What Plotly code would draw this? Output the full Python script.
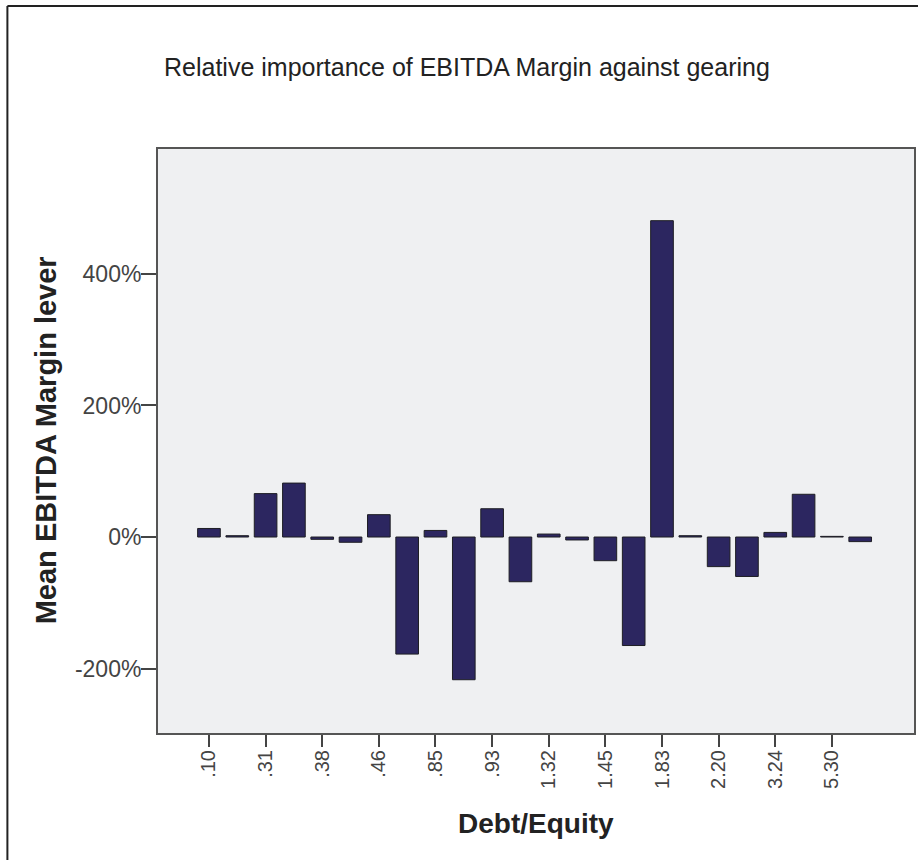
import plotly.graph_objects as go

# Data
tick_labels = [".10", ".31", ".38", ".46", ".85", ".93", "1.32", "1.45", "1.83", "2.20", "3.24", "5.30"]
mean_ebitda_margin_pct = [13, 2, 66, 82, -3.5, -8, 34, -178, 10, -217, 43, -68,
                          4.5, -4.5, -36, -165, 481, 2, -45, -60, 7, 65, 1, -7]
y_tick_values = [-200, 0, 200, 400]

n = len(mean_ebitda_margin_pct)
positions = list(range(n))
labelled_positions = positions[::2]

W, H = 918, 860
L, R, T, B = 158, 2, 149, 127
pw, ph = W - L - R, H - T - B

def px_x(x):
    return (x - L) / pw

def px_y(y):
    return (H - B - y) / ph

FONT = "Liberation Sans, Arial, sans-serif"

fig = go.Figure()
fig.add_trace(go.Bar(
    x=positions,
    y=mean_ebitda_margin_pct,
    marker=dict(color="#2c2660", line=dict(color="#1e1e24", width=1)),
    hoverinfo="y",
))

fig.update_layout(
    width=W, height=H,
    margin=dict(l=L, r=R, t=T, b=B),
    paper_bgcolor="white",
    plot_bgcolor="#eff0f2",
    bargap=0.2,
    showlegend=False,
    font=dict(family=FONT, color="#333333"),
)

fig.update_xaxes(
    range=[-1.8, 24.9],
    tickmode="array",
    tickvals=labelled_positions,
    ticktext=tick_labels,
    tickangle=-90,
    ticks="outside", ticklen=12, tickwidth=2, tickcolor="#444444",
    ticklabelstandoff=-5,
    tickfont=dict(size=20, color="#444444", family=FONT),
    showline=True, linecolor="#555555", linewidth=2, mirror=True,
    showgrid=False, zeroline=False,
)
fig.update_yaxes(
    range=[-298, 590],
    tickmode="array",
    tickvals=y_tick_values,
    ticktext=[f"{v}%" for v in y_tick_values],
    ticks="outside", ticklen=15, tickwidth=2, tickcolor="#444444",
    ticklabelstandoff=-5,
    tickfont=dict(size=23, color="#444444", family=FONT),
    showline=True, linecolor="#555555", linewidth=2, mirror=True,
    showgrid=False, zeroline=False,
)

annotations = [
    dict(text="Relative importance of EBITDA Margin against gearing",
         x=px_x(468), y=px_y(67), xref="paper", yref="paper",
         xanchor="center", yanchor="middle", showarrow=False,
         font=dict(size=25, color="#222222", family=FONT)),
    dict(text="<b>Mean EBITDA Margin lever</b>",
         x=px_x(46), y=px_y(440), xref="paper", yref="paper",
         xanchor="center", yanchor="middle", showarrow=False, textangle=-90,
         font=dict(size=29, color="#222222", family=FONT)),
    dict(text="<b>Debt/Equity</b>",
         x=px_x(537), y=px_y(823), xref="paper", yref="paper",
         xanchor="center", yanchor="middle", showarrow=False,
         font=dict(size=28, color="#222222", family=FONT)),
]
fig.update_layout(annotations=annotations)

shapes = [
    dict(type="line", xref="paper", yref="paper",
         x0=px_x(7), x1=px_x(7), y0=px_y(6), y1=px_y(H + 5),
         line=dict(color="#222222", width=2)),
    dict(type="line", xref="paper", yref="paper",
         x0=px_x(7), x1=px_x(W + 5), y0=px_y(6), y1=px_y(6),
         line=dict(color="#222222", width=2)),
]
fig.update_layout(shapes=shapes)

fig.write_html("out.html", config={"displayModeBar": False},
               post_script="document.body.style.margin='0px';")
